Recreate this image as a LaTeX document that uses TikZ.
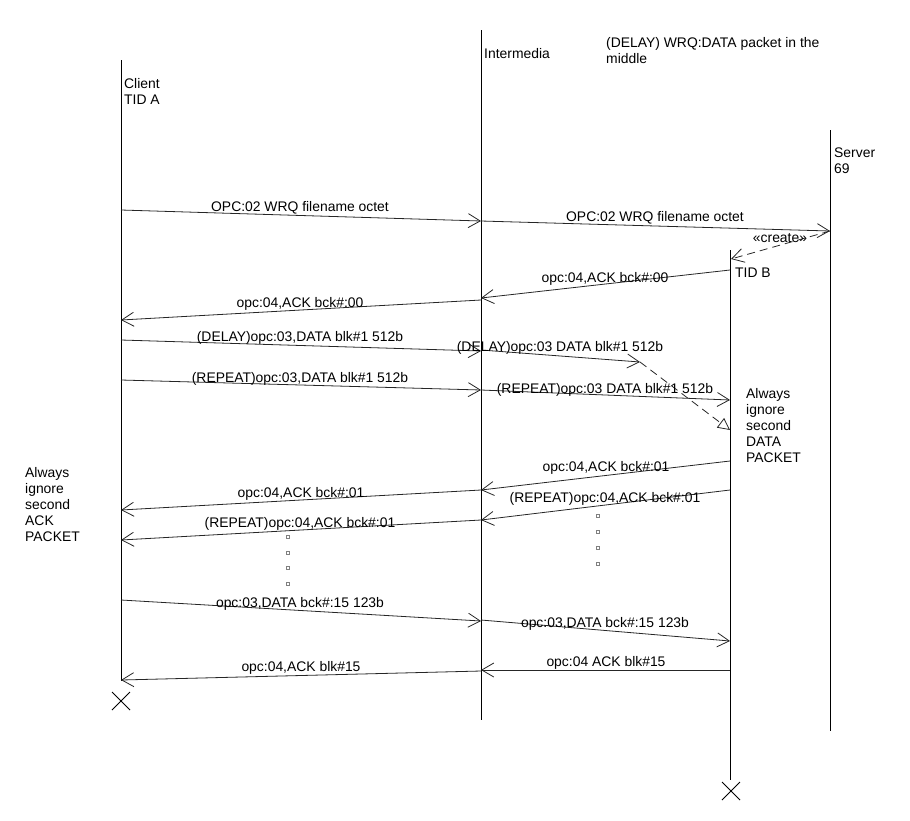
\documentclass[tikz,border=0pt]{standalone}
\usepackage{fontspec}
\setmainfont{Liberation Sans}
\usetikzlibrary{arrows.meta,calc}
\begin{document}
\begin{tikzpicture}[x=1pt,y=-1pt,
  every node/.style={font=\fontsize{13.9}{16}\selectfont, inner sep=0pt},
  lifeline/.style={line width=0.9pt, black},
  msg/.style={line width=0.8pt, black!85, -{Straight Barb[length=12pt,width=14pt,line width=0.8pt]}},
  dmsg/.style={msg, dash pattern=on 8pt off 5pt},
  lbl/.style={anchor=base},
  note/.style={align=left, anchor=north west},
  dot/.style={draw=black!50, fill=white, line width=0.5pt, minimum size=3pt, inner sep=0pt, rectangle},
  destroy/.style={line width=0.8pt}]
\useasboundingbox (0,0) rectangle (910,820);

% lifelines
\coordinate (cT) at (121,60);  \coordinate (cB) at (121,681);
\coordinate (iT) at (481,30);  \coordinate (iB) at (481,720);
\coordinate (sT) at (830,130); \coordinate (sB) at (830,731);
\coordinate (bT) at (730,250); \coordinate (bB) at (730,780);
\draw[lifeline] (cT) -- (cB);
\draw[lifeline] (iT) -- (iB);
\draw[lifeline] (sT) -- (sB);
\draw[lifeline] (bT) -- (bB);

% header texts
\node[note] (clientLbl) at (124,78) {Client\\TID A};
\node[note] (interLbl) at (484,48) {Intermedia};
\node[note] (delayNote) at (606,37) {(DELAY) WRQ:DATA packet in the\\middle};
\node[note] (serverLbl) at (834,148) {Server\\69};
\node[note] (tidbLbl) at (735,268) {TID B};
\node[note] (dataNote) at (746,388) {Always\\ignore\\second\\DATA\\PACKET};
\node[note] (ackNote) at (25,467) {Always\\ignore\\second\\ACK\\PACKET};

% destroy marks
\coordinate (cX) at (121,701);
\coordinate (bX) at (731,791);
\draw[destroy] ($(cX)+(-9,-9)$) -- ($(cX)+(9,9)$) ($(cX)+(-9,9)$) -- ($(cX)+(9,-9)$);
\draw[destroy] ($(bX)+(-9,-9)$) -- ($(bX)+(9,9)$) ($(bX)+(-9,9)$) -- ($(bX)+(9,-9)$);

% message end points
\coordinate (m1a) at (121,210); \coordinate (m1b) at (481,221);
\coordinate (m2a) at (481,221); \coordinate (m2b) at (830,231);
\coordinate (m3a) at (830,231); \coordinate (m3b) at (731,259);
\coordinate (m4a) at (730,270); \coordinate (m4b) at (481,298);
\coordinate (m5a) at (481,300); \coordinate (m5b) at (121,320);
\coordinate (m6a) at (121,340); \coordinate (m6b) at (481,351);
\coordinate (m7a) at (481,350); \coordinate (m7b) at (640,362);
\coordinate (m7c) at (730,430);
\coordinate (m8a) at (121,380); \coordinate (m8b) at (481,390);
\coordinate (m9a) at (481,390); \coordinate (m9b) at (730,400);
\coordinate (m10a) at (730,461); \coordinate (m10b) at (481,490);
\coordinate (m11a) at (481,490); \coordinate (m11b) at (121,510);
\coordinate (m12a) at (730,490); \coordinate (m12b) at (481,520);
\coordinate (m13a) at (481,520); \coordinate (m13b) at (121,540);
\coordinate (m14a) at (121,600); \coordinate (m14b) at (481,621);
\coordinate (m15a) at (481,620); \coordinate (m15b) at (730,641);
\coordinate (m16a) at (730,670); \coordinate (m16b) at (481,670);
\coordinate (m17a) at (481,671); \coordinate (m17b) at (121,680);

\draw[msg] (m1a) -- (m1b);
\draw[msg] (m2a) -- (m2b);
\draw[dmsg] (m3a) -- (m3b);
\draw[msg] (m4a) -- (m4b);
\draw[msg] (m5a) -- (m5b);
\draw[msg] (m6a) -- (m6b);
\draw[msg] (m7a) -- (m7b);
\draw[line width=0.8pt, black!85, dash pattern=on 8pt off 5pt,
  -{Triangle[open,length=12pt,width=12pt,line width=0.8pt]}] (m7b) -- (m7c);
\draw[msg] (m8a) -- (m8b);
\draw[msg] (m9a) -- (m9b);
\draw[msg] (m10a) -- (m10b);
\draw[msg] (m11a) -- (m11b);
\draw[msg] (m12a) -- (m12b);
\draw[msg] (m13a) -- (m13b);
\draw[msg] (m14a) -- (m14b);
\draw[msg] (m15a) -- (m15b);
\draw[msg] (m16a) -- (m16b);
\draw[msg] (m17a) -- (m17b);

% labels
\node[lbl] (l1) at (300,211) {OPC:02 WRQ filename octet};
\node[lbl] (l2) at (655,221) {OPC:02 WRQ filename octet};
\node[lbl] (l3) at (780,242) {«create»};
\node[lbl] (l4) at (605,282) {opc:04,ACK bck\#:00};
\node[lbl] (l5) at (300,307) {opc:04,ACK bck\#:00};
\node[lbl] (l6) at (300,341) {(DELAY)opc:03,DATA blk\#1 512b};
\node[lbl] (l7) at (560,351) {(DELAY)opc:03 DATA blk\#1 512b};
\node[lbl] (l8) at (300,382) {(REPEAT)opc:03,DATA blk\#1 512b};
\node[lbl] (l9) at (605,393) {(REPEAT)opc:03 DATA blk\#1 512b};
\node[lbl] (l10) at (606,471) {opc:04,ACK bck\#:01};
\node[lbl] (l11) at (301,497) {opc:04,ACK bck\#:01};
\node[lbl] (l12) at (605,502) {(REPEAT)opc:04,ACK bck\#:01};
\node[lbl] (l13) at (300,527) {(REPEAT)opc:04,ACK bck\#:01};
\node[lbl] (l14) at (300,607) {opc:03,DATA bck\#:15 123b};
\node[lbl] (l15) at (605,627) {opc:03,DATA bck\#:15 123b};
\node[lbl] (l16) at (606,666) {opc:04 ACK blk\#15};
\node[lbl] (l17) at (301,671) {opc:04,ACK blk\#15};

% continuation dots
\foreach \i/\yy in {1/537,2/553,3/568,4/584} \node[dot] (dl\i) at (288,\yy) {};
\foreach \i/\yy in {1/516,2/532,3/548,4/564} \node[dot] (dr\i) at (598,\yy) {};
\end{tikzpicture}
\end{document}
